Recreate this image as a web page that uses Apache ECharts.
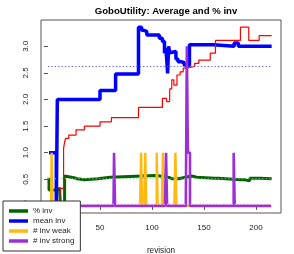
<!DOCTYPE html>
<html><head><meta charset="utf-8">
<script src="https://cdn.jsdelivr.net/npm/echarts@6/dist/echarts.min.js"></script>
<style>html,body{margin:0;padding:0;background:#fff}#c{width:294px;height:254px}</style>
</head><body><div id="c"></div>
<script>
const chartTitle = 'GoboUtility: Average and % inv';
const xName = 'revision';
const xTicks = [0, 50, 100, 150, 200];
const yTicks = [0, 0.5, 1, 1.5, 2, 2.5, 3];
const revFirst = 1, revLast = 215;
const refStart = 0, refEnd = 214;

// change points [revision, value]
const pctInv = [[1,0.53],[1,0.3],[11,0.35],[12,0.02],[16,0.56],[17,0.53],[25,0.51],[28,0.49],[35,0.51],[48,0.54],[60,0.57],[103,0.55],[113,0.53],[117,0.51],[119,0.54],[120,0.51],[126,0.53],[130,0.56],[138,0.54],[143,0.52],[160,0.52],[164,0.49],[185,0.49],[189,0.47],[194,0.52],[204,0.51],[215,0.51]];
const meanInv = [[1,1],[8,0],[9,2],[50,2.17],[65,2.48],[87,3.36],[90,3.30],[92,3.28],[95,3.21],[107,3.15],[110,3.09],[112,2.87],[113,2.97],[114,2.8],[115,2.49],[116,3.0],[117,2.88],[118,2.9],[123,2.76],[125,2.71],[128,2.69],[131,2.64],[136,3.03],[159,3.0],[179,3.06],[183,3.0],[215,3.0]];
const redLine = [[10,0.05],[11,0.1],[12,0.33],[15,1.08],[16,1.2],[17,1.27],[20,1.33],[27,1.43],[35,1.5],[50,1.58],[61,1.66],[87,1.85],[110,2.02],[114,1.96],[117,2.2],[119,2.37],[121,2.27],[124,2.46],[127,2.52],[130,2.59],[133,2.62],[141,2.68],[145,2.74],[156,2.87],[161,3.11],[185,3.36],[193,3.11],[203,3.2],[215,3.2]];
const weakSpikes = [[4,1],[90,1],[94,1],[105,1],[111,1],[123,1]];
const strongSpikes = [[64,1],[114,1],[134,3],[135,1],[136,1],[179,1]];
const meanInvRef = 2.62, pctInvRef = 0.51, strongRef = 0.03;

function counts(spikes){
  const m = new Map(spikes);
  const out = [];
  for (let r = revFirst; r <= revLast; r++) out.push([r, m.has(r) ? m.get(r) : 0]);
  return out;
}
const font = 'Liberation Sans, Arial, sans-serif';
const C = {green:'#006400', blue:'#0000FF', red:'#FF0000', orange:'#FFB90F', purple:'#9B30D9'};

const chart = echarts.init(document.getElementById('c'), null, {renderer:'canvas'});
const base = {type:'line', showSymbol:false, symbol:'none', animation:false, silent:true};
chart.setOption({
  animation:false,
  title:{text:chartTitle, left:161, textAlign:'center', top:1, textStyle:{fontFamily:font, fontSize:9.6, fontWeight:'bold', color:'#000'}},
  grid:{left:41, right:13, top:20, bottom:41, show:true, borderColor:'#555', borderWidth:1, backgroundColor:'transparent', outerBoundsMode:'none', containLabel:false},
  xAxis:{type:'value', min:-6.7, max:224, name:xName, nameLocation:'middle', nameGap:34,
    nameTextStyle:{fontFamily:font, fontSize:8.2, color:'#222'},
    axisLine:{show:false}, splitLine:{show:false},
    axisTick:{show:true, length:4, customValues:xTicks, lineStyle:{color:'#555'}},
    axisLabel:{customValues:xTicks, margin:11, fontFamily:font, fontSize:8, color:'#222'}},
  yAxis:{type:'value', min:-0.134, max:3.494,
    axisLine:{show:false}, splitLine:{show:false},
    axisTick:{show:true, length:4, customValues:yTicks, lineStyle:{color:'#555'}},
    axisLabel:{customValues:yTicks, rotate:90, margin:11, align:'center', verticalAlign:'bottom', fontFamily:font, fontSize:8, color:'#222', formatter:v=>v.toFixed(1)}},
  legend:{orient:'vertical', left:3, top:201, data:['% inv','mean inv','# inv weak','# inv strong'],
    icon:'rect', itemWidth:19, itemHeight:3.5, itemGap:0, padding:[5,6,5,6],
    backgroundColor:'#fff', borderColor:'#333', borderWidth:1, z:10,
    textStyle:{fontFamily:font, fontSize:8, color:'#222', lineHeight:10}},
  series:[
    Object.assign({}, base, {name:'% inv', data:pctInv, step:'end', color:C.green, lineStyle:{width:3, color:C.green}}),
    Object.assign({}, base, {name:'mean inv', data:meanInv, step:'end', color:C.blue, lineStyle:{width:3.5, color:C.blue}}),
    Object.assign({}, base, {name:'revs', data:redLine, step:'end', color:C.red, lineStyle:{width:1.2, color:C.red}}),
    Object.assign({}, base, {name:'# inv weak', data:counts(weakSpikes), step:'middle', color:C.orange, lineStyle:{width:2.4, color:C.orange}}),
    Object.assign({}, base, {name:'# inv strong', data:counts(strongSpikes), step:'middle', color:C.purple, lineStyle:{width:2.6, color:C.purple}}),
    Object.assign({}, base, {name:'ref1', data:[[refStart,meanInvRef],[refEnd,meanInvRef]], lineStyle:{width:1, type:[1.2,2.2], color:'#5555FF'}}),
    Object.assign({}, base, {name:'ref2', data:[[refStart,pctInvRef],[refEnd,pctInvRef]], lineStyle:{width:1, type:[1.2,2.2], color:'#88BB88'}}),
    Object.assign({}, base, {name:'ref3', data:[[refStart,strongRef],[refEnd,strongRef]], lineStyle:{width:1, type:[1.2,2.2], color:'#E8C8F8'}})
  ]
});
</script></body></html>
